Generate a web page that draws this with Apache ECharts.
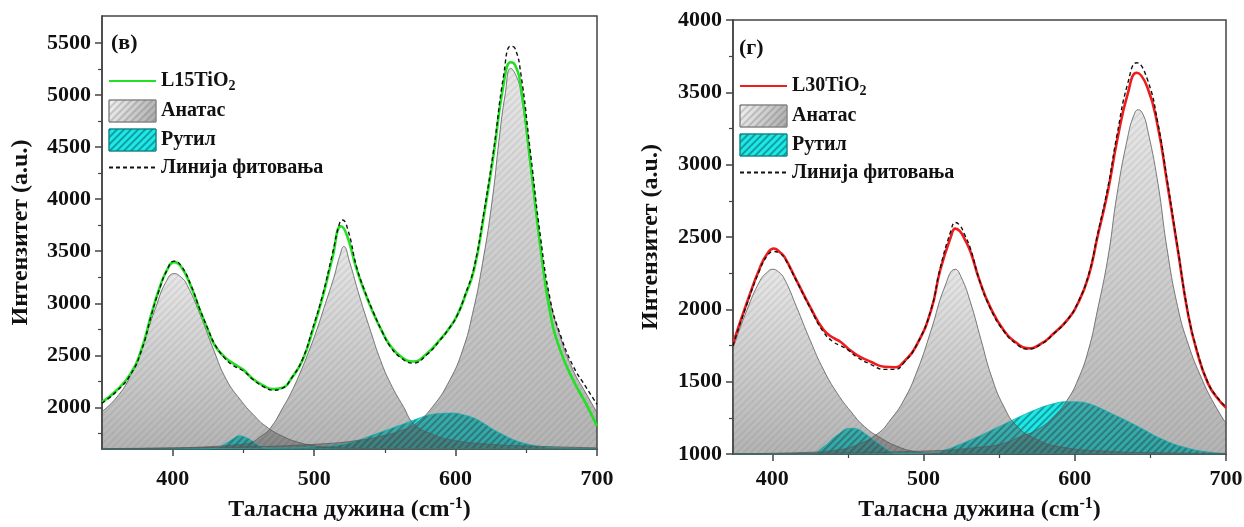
<!DOCTYPE html>
<html>
<head>
<meta charset="utf-8">
<script src="https://cdn.jsdelivr.net/npm/echarts@6/dist/echarts.min.js"></script>
<style>
  html, body { margin: 0; padding: 0; background: #fff; }
  #chart { width: 1244px; height: 527px; }
</style>
</head>
<body>
<div id="chart"></div>
<script>
// Раманови спектри, (в) L15TiO2 и (г) L30TiO2

var xMajorTicks = [400, 500, 600, 700];
var xMinorTicks = [450, 550, 650];
var leftYTicks = [2000, 2500, 3000, 3500, 4000, 4500, 5000, 5500];
var leftYMinor = [1750, 2250, 2750, 3250, 3750, 4250, 4750, 5250];
var rightYTicks = [1000, 1500, 2000, 2500, 3000, 3500, 4000];
var rightYMinor = [1250, 1750, 2250, 2750, 3250, 3750];

// ---- (в) L15TiO2 ----
var l15Line = [[350,2050],[360,2160],[370,2320],[378,2560],[385,2900],[390,3120],[396,3320],[401,3395],[406,3350],[413,3160],[419,2940],[425,2740],[430,2590],[437,2480],[443,2420],[450,2360],[457,2270],[464,2210],[471,2175],[477,2185],[485,2300],[492,2460],[499,2740],[506,3060],[513,3440],[519,3740],[523,3660],[530,3330],[536,3100],[542,2900],[548,2730],[554,2590],[562,2480],[570,2440],[580,2520],[589,2650],[595,2750],[601,2880],[607,3080],[613,3320],[620,3840],[627,4440],[634,5110],[639,5315],[642,5290],[646,5100],[653,4340],[660,3540],[667,2900],[674,2550],[683,2265],[692,2040],[700,1820]];
var l15Fit = [[350,2040],[360,2150],[370,2310],[378,2550],[385,2890],[390,3110],[396,3320],[401,3405],[406,3360],[413,3170],[419,2950],[425,2750],[430,2600],[437,2470],[443,2400],[450,2350],[457,2265],[464,2200],[471,2165],[477,2180],[485,2300],[492,2470],[499,2760],[506,3080],[513,3480],[518,3770],[520,3800],[524,3700],[530,3350],[536,3110],[542,2910],[548,2730],[554,2580],[562,2470],[570,2425],[580,2510],[589,2645],[595,2750],[601,2880],[607,3090],[613,3340],[620,3870],[627,4480],[634,5190],[639,5470],[642,5450],[646,5220],[653,4440],[660,3640],[667,3030],[674,2700],[683,2400],[692,2200],[700,2030]];
var l15Anatase1 = [[350,1960],[360,2090],[370,2300],[380,2650],[388,2960],[395,3200],[401,3285],[406,3250],[410,3180],[419,2905],[429,2550],[438,2265],[448,2070],[457,1930],[466,1817],[478,1721],[490,1660],[502,1628],[515,1612],[530,1606],[560,1602],[600,1601],[700,1600]];
var l15Anatase2 = [[350,1602],[400,1610],[430,1625],[445,1640],[455,1660],[462,1720],[469,1800],[478,2000],[484,2150],[490,2330],[496,2530],[502,2750],[508,3000],[514,3250],[518,3450],[521,3545],[525,3400],[532,3070],[540,2730],[547,2450],[554,2230],[563,2010],[571,1835],[584,1740],[596,1690],[620,1650],[660,1625],[700,1612]];
var l15Anatase3 = [[350,1604],[450,1620],[500,1645],[530,1680],[550,1730],[562,1780],[571,1835],[584,2010],[596,2265],[605,2550],[612,2900],[619,3380],[626,4000],[631,4600],[635,5000],[639,5257],[643,5180],[646,5040],[652,4420],[659,3650],[666,3070],[674,2680],[683,2360],[692,2140],[700,1950]];
var l15Rutile1 = [[350,1600],[425,1600],[431,1610],[438,1657],[443,1700],[447,1727],[451,1715],[455,1689],[460,1640],[465,1609],[470,1600],[700,1600]];
var l15Rutile2 = [[350,1600],[480,1610],[500,1620],[518,1641],[530,1680],[542,1737],[554,1795],[565,1849],[574,1895],[582,1929],[590,1942],[598,1945],[605,1930],[613,1897],[620,1845],[627,1785],[634,1735],[641,1689],[650,1650],[660,1625],[672,1612],[683,1607],[700,1603]];

// ---- (г) L30TiO2 ----
var l30Line = [[374,1764],[383,2040],[392,2293],[397,2390],[401,2420],[405,2395],[408,2362],[416,2200],[425,2017],[434,1856],[441,1799],[445,1776],[450,1730],[456,1684],[465,1638],[474,1603],[481,1600],[487,1638],[496,1764],[505,1994],[511,2270],[518,2500],[521,2558],[524,2540],[527,2489],[531,2400],[537,2200],[544,2017],[553,1856],[562,1764],[569,1730],[578,1764],[586,1833],[595,1925],[602,2040],[609,2224],[615,2500],[622,2822],[628,3167],[635,3489],[641,3635],[648,3535],[655,3259],[661,2880],[668,2420],[675,1960],[681,1700],[688,1490],[694,1390],[700,1320]];
var l30Fit = [[374,1750],[383,2030],[392,2280],[397,2375],[401,2400],[405,2385],[408,2355],[416,2195],[425,2010],[434,1840],[441,1770],[445,1750],[450,1720],[456,1670],[465,1620],[474,1585],[481,1585],[487,1630],[496,1765],[505,2000],[511,2285],[518,2540],[521,2600],[524,2580],[527,2520],[531,2420],[537,2200],[544,2010],[553,1850],[562,1755],[569,1725],[578,1760],[586,1830],[595,1925],[602,2045],[609,2235],[615,2515],[622,2850],[628,3210],[635,3560],[641,3705],[648,3590],[655,3285],[661,2900],[668,2430],[675,1970],[681,1710],[688,1495],[694,1395],[700,1325]];
var l30Anatase1 = [[374,1730],[383,1990],[392,2200],[397,2260],[400,2277],[404,2260],[408,2210],[416,2017],[425,1787],[434,1580],[443,1419],[452,1293],[461,1189],[472,1109],[483,1051],[494,1017],[505,1005],[530,1001],[700,1000]];
var l30Anatase2 = [[374,1002],[420,1010],[443,1028],[456,1063],[470,1143],[478,1235],[487,1373],[496,1580],[505,1856],[514,2155],[521,2277],[525,2220],[531,2050],[538,1790],[545,1534],[553,1330],[562,1190],[575,1100],[590,1050],[620,1020],[660,1008],[700,1003]];
var l30Anatase3 = [[374,1000],[500,1020],[540,1050],[553,1074],[564,1120],[575,1166],[586,1258],[595,1373],[602,1511],[609,1718],[615,1994],[622,2362],[628,2799],[635,3190],[639,3340],[642,3380],[645,3350],[648,3250],[655,2870],[661,2420],[668,2020],[675,1760],[684,1520],[692,1350],[700,1212]];
var l30Rutile1 = [[374,1000],[425,1000],[434,1051],[443,1132],[452,1178],[457,1170],[461,1143],[470,1074],[478,1017],[482,1002],[700,1000]];
var l30Rutile2 = [[374,1000],[480,1000],[505,1005],[515,1030],[525,1070],[535,1115],[545,1165],[555,1215],[565,1265],[575,1310],[585,1345],[595,1361],[602,1360],[610,1345],[624,1281],[642,1189],[659,1097],[675,1040],[690,1012],[700,1004]];

var FONT = '"Liberation Serif", "Times New Roman", serif';
var AXIS_COLOR = '#444';

// сива, полупровидна: преко тиркизне даје тамнију нијансу као у оригиналу
var anatasFill = {
    type: 'linear', x: 0, y: 0, x2: 0, y2: 1,
    colorStops: [{offset: 0, color: '#c6c6c6'}, {offset: 1, color: '#4c4c4c'}]
};
var anatasLegendFill = {
    type: 'linear', x: 0, y: 0, x2: 1, y2: 1,
    colorStops: [{offset: 0, color: '#f4f4f4'}, {offset: 1, color: '#aaaaaa'}]
};
var anatasDecal = {
    symbol: 'rect', symbolSize: 1, dashArrayX: [1, 0], dashArrayY: [1.5, 3],
    rotation: -Math.PI / 4, color: 'rgba(70,70,70,0.22)'
};
var rutilDecal = {
    symbol: 'rect', symbolSize: 1, dashArrayX: [1, 0], dashArrayY: [1.5, 3],
    rotation: -Math.PI / 4, color: 'rgba(0,70,70,0.45)'
};

function numLabel(v) {
    return String(v);
}

function xAxes(grid, min, labelMargin, nameGap) {
    return [{
        gridIndex: grid, type: 'value', min: min, max: 700, position: 'bottom',
        axisLine: {show: true, onZero: false, lineStyle: {color: AXIS_COLOR, width: 1.5}},
        axisTick: {show: true, length: 7, customValues: xMajorTicks, lineStyle: {color: AXIS_COLOR, width: 1.5}},
        axisLabel: {customValues: xMajorTicks, formatter: numLabel, margin: labelMargin, fontSize: 22, fontWeight: 'bold', fontFamily: FONT, color: '#111'},
        splitLine: {show: false},
        name: '{t|Таласна дужина (cm}{s|-1}{t|)}',
        nameLocation: 'middle', nameGap: nameGap,
        nameTextStyle: {
            rich: {
                t: {fontSize: 24, fontWeight: 'bold', fontFamily: FONT, color: '#111'},
                s: {fontSize: 16, fontWeight: 'bold', fontFamily: FONT, color: '#111', padding: [0, 0, 12, 0]}
            }
        }
    }, {
        gridIndex: grid, type: 'value', min: min, max: 700, position: 'bottom',
        axisLine: {show: false},
        axisTick: {show: true, length: 4, customValues: xMinorTicks, lineStyle: {color: AXIS_COLOR, width: 1.2}},
        axisLabel: {show: false},
        splitLine: {show: false}
    }];
}

function yAxes(grid, min, max, major, minor, gap) {
    return [{
        gridIndex: grid, type: 'value', min: min, max: max, position: 'left',
        axisLine: {show: true, onZero: false, lineStyle: {color: AXIS_COLOR, width: 1.5}},
        axisTick: {show: true, length: 7, customValues: major, lineStyle: {color: AXIS_COLOR, width: 1.5}},
        axisLabel: {customValues: major, formatter: numLabel, margin: 11, fontSize: 22, fontWeight: 'bold', fontFamily: FONT, color: '#111'},
        splitLine: {show: false},
        name: 'Интензитет (a.u.)',
        nameLocation: 'middle', nameGap: gap,
        nameTextStyle: {fontSize: 24, fontWeight: 'bold', fontFamily: FONT, color: '#111'}
    }, {
        gridIndex: grid, type: 'value', min: min, max: max, position: 'left',
        axisLine: {show: false},
        axisTick: {show: true, length: 4, customValues: minor, lineStyle: {color: AXIS_COLOR, width: 1.2}},
        axisLabel: {show: false},
        splitLine: {show: false}
    }];
}

function rutilSeries(data, ax) {
    return {
        name: 'Рутил', type: 'line', data: data, xAxisIndex: ax, yAxisIndex: ax,
        symbol: 'none', smooth: 0.5, silent: true,
        lineStyle: {color: '#16b0b0', width: 0.8},
        itemStyle: {color: '#1ee8e8', decal: rutilDecal},
        areaStyle: {origin: 'start', color: '#1ee8e8', opacity: 1}
    };
}

function anatasSeries(data, ax) {
    return {
        name: 'Анатас', type: 'line', data: data, xAxisIndex: ax, yAxisIndex: ax,
        symbol: 'none', smooth: 0.5, silent: true,
        lineStyle: {color: '#5a5a5a', width: 0.8},
        itemStyle: {color: '#888888', decal: anatasDecal},
        areaStyle: {origin: 'start', color: anatasFill, opacity: 0.42}
    };
}

function lineSeries(name, data, ax, color, width, type) {
    return {
        name: name, type: 'line', data: data, xAxisIndex: ax, yAxisIndex: ax,
        symbol: 'none', smooth: 0.5, silent: true,
        itemStyle: {color: color},
        lineStyle: {color: color, width: width, type: type}
    };
}

function legendFor(left, top, sample) {
    return {
        orient: 'vertical', left: left, top: top,
        itemWidth: 47, itemHeight: 22, itemGap: 6,
        selectedMode: false, padding: 0,
        textStyle: {
            fontSize: 20, fontWeight: 'bold', fontFamily: FONT, color: '#111',
            rich: {sub: {fontSize: 14, fontWeight: 'bold', fontFamily: FONT, color: '#111', padding: [11, 0, 0, 0]}}
        },
        formatter: function (name) {
            return name.indexOf('TiO2') > -1 ? name.replace('TiO2', 'TiO{sub|2}') : name;
        },
        data: [
            {name: sample, itemStyle: {opacity: 0}},
            {name: 'Анатас', icon: 'rect', itemStyle: {color: anatasLegendFill, decal: anatasDecal, borderColor: '#888', borderWidth: 1, opacity: 1}},
            {name: 'Рутил', icon: 'rect', itemStyle: {color: '#1ee8e8', decal: rutilDecal, borderColor: '#168a8a', borderWidth: 1, opacity: 1}},
            {name: 'Линија фитовања', itemStyle: {opacity: 0}}
        ]
    };
}

var chart = echarts.init(document.getElementById('chart'), null, {renderer: 'canvas'});

var option = {
    backgroundColor: '#fff',
    animation: false,
    title: [
        {text: '(в)', left: 111, top: 32, padding: 0, textStyle: {fontSize: 22, fontWeight: 'bold', fontFamily: FONT, color: '#111'}},
        {text: '(г)', left: 739, top: 37, padding: 0, textStyle: {fontSize: 22, fontWeight: 'bold', fontFamily: FONT, color: '#111'}}
    ],
    legend: [
        legendFor(108, 71, 'L15TiO2'),
        legendFor(739, 76, 'L30TiO2')
    ],
    grid: [
        {left: 102, top: 16, width: 495, height: 433, show: true, borderColor: AXIS_COLOR, borderWidth: 1.5, outerBoundsMode: 'none', containLabel: false},
        {left: 733, top: 20, width: 493, height: 434, show: true, borderColor: AXIS_COLOR, borderWidth: 1.5, outerBoundsMode: 'none', containLabel: false}
    ],
    xAxis: xAxes(0, 350, 19, 47).concat(xAxes(1, 374, 14, 42)),
    yAxis: yAxes(0, 1600, 5760, leftYTicks, leftYMinor, 69).concat(yAxes(1, 1000, 4000, rightYTicks, rightYMinor, 70)),
    series: [
        rutilSeries(l15Rutile1, 0),
        rutilSeries(l15Rutile2, 0),
        anatasSeries(l15Anatase1, 0),
        anatasSeries(l15Anatase2, 0),
        anatasSeries(l15Anatase3, 0),
        lineSeries('L15TiO2', l15Line, 0, '#22e022', 2.6, 'solid'),
        lineSeries('Линија фитовања', l15Fit, 0, '#111111', 1.4, [4, 3]),

        rutilSeries(l30Rutile1, 2),
        rutilSeries(l30Rutile2, 2),
        anatasSeries(l30Anatase1, 2),
        anatasSeries(l30Anatase2, 2),
        anatasSeries(l30Anatase3, 2),
        lineSeries('L30TiO2', l30Line, 2, '#ee1c1c', 2.6, 'solid'),
        lineSeries('Линија фитовања', l30Fit, 2, '#111111', 1.4, [4, 3])
    ]
};

chart.setOption(option);
</script>
</body>
</html>
